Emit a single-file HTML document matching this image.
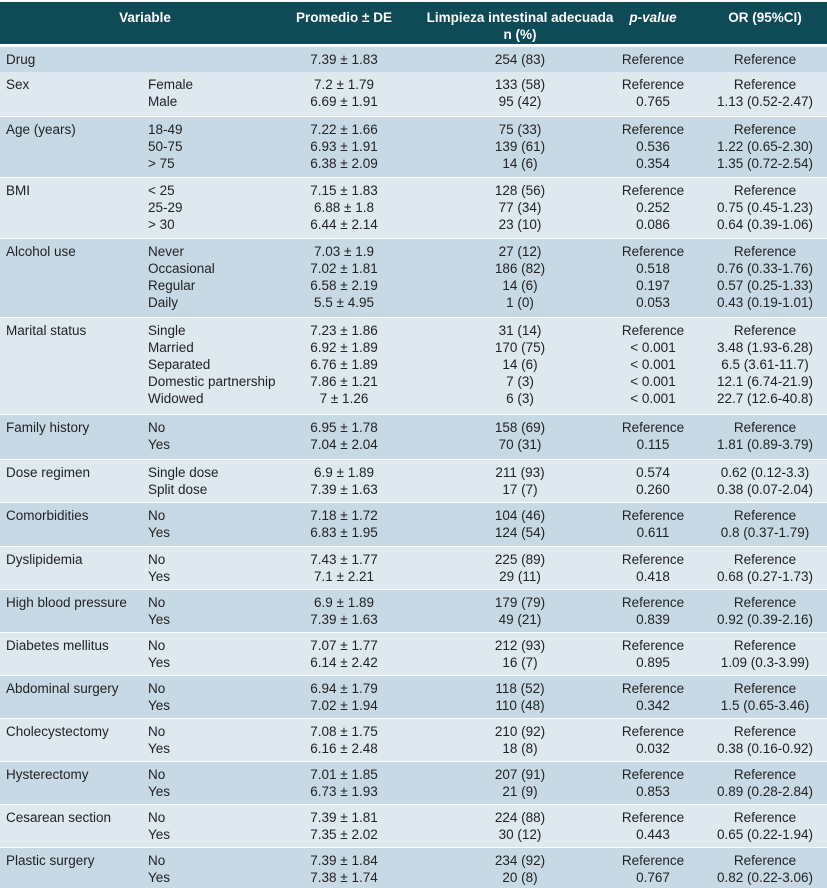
<!DOCTYPE html>
<html><head><meta charset="utf-8">
<style>
body{margin:0;width:827px;height:887px;background:#fff;overflow:hidden;font-family:"Liberation Sans Narrow","Liberation Sans",sans-serif;font-size:13.5px;color:#222}
#t{position:relative;width:827px;height:887px}
.hdr{position:absolute;left:0;top:2px;width:827px;height:42px;background:#0f4a57;color:#fff;font-weight:bold}
.row{position:absolute;left:0;width:827px}
.c{position:absolute;line-height:17px;white-space:pre}
.ctr{text-align:center}
</style></head><body>
<div id="t">
 <div class="hdr">
  <div class="c ctr" style="left:80px;width:130px;top:7px">Variable</div>
  <div class="c ctr" style="left:284px;width:120px;top:7px">Promedio ± DE</div>
  <div class="c ctr" style="left:410px;width:220px;top:7px">Limpieza intestinal adecuada
n (%)</div>
  <div class="c ctr" style="left:603px;width:100px;top:7px;font-style:italic">p-value</div>
  <div class="c ctr" style="left:705px;width:120px;top:7px">OR (95%CI)</div>
 </div>
</div>
<script>
const rows=[
["Drug",47,71,[""],["7.39 ± 1.83"],["254 (83)"],["Reference"],["Reference"]],
["Sex",72,115,["Female","Male"],["7.2 ± 1.79","6.69 ± 1.91"],["133 (58)","95 (42)"],["Reference","0.765"],["Reference","1.13 (0.52-2.47)"]],
["Age (years)",117,176,["18-49","50-75","> 75"],["7.22 ± 1.66","6.93 ± 1.91","6.38 ± 2.09"],["75 (33)","139 (61)","14 (6)"],["Reference","0.536","0.354"],["Reference","1.22 (0.65-2.30)","1.35 (0.72-2.54)"]],
["BMI",178,237,["< 25","25-29","> 30"],["7.15 ± 1.83","6.88 ± 1.8","6.44 ± 2.14"],["128 (56)","77 (34)","23 (10)"],["Reference","0.252","0.086"],["Reference","0.75 (0.45-1.23)","0.64 (0.39-1.06)"]],
["Alcohol use",239,316,["Never","Occasional","Regular","Daily"],["7.03 ± 1.9","7.02 ± 1.81","6.58 ± 2.19","5.5 ± 4.95"],["27 (12)","186 (82)","14 (6)","1 (0)"],["Reference","0.518","0.197","0.053"],["Reference","0.76 (0.33-1.76)","0.57 (0.25-1.33)","0.43 (0.19-1.01)"]],
["Marital status",318,413,["Single","Married","Separated","Domestic partnership","Widowed"],["7.23 ± 1.86","6.92 ± 1.89","6.76 ± 1.89","7.86 ± 1.21","7 ± 1.26"],["31 (14)","170 (75)","14 (6)","7 (3)","6 (3)"],["Reference","< 0.001","< 0.001","< 0.001","< 0.001"],["Reference","3.48 (1.93-6.28)","6.5 (3.61-11.7)","12.1 (6.74-21.9)","22.7 (12.6-40.8)"]],
["Family history",415,458,["No","Yes"],["6.95 ± 1.78","7.04 ± 2.04"],["158 (69)","70 (31)"],["Reference","0.115"],["Reference","1.81 (0.89-3.79)"]],
["Dose regimen",460,501,["Single dose","Split dose"],["6.9 ± 1.89","7.39 ± 1.63"],["211 (93)","17 (7)"],["0.574","0.260"],["0.62 (0.12-3.3)","0.38 (0.07-2.04)"]],
["Comorbidities",503,545,["No","Yes"],["7.18 ± 1.72","6.83 ± 1.95"],["104 (46)","124 (54)"],["Reference","0.611"],["Reference","0.8 (0.37-1.79)"]],
["Dyslipidemia",547,588,["No","Yes"],["7.43 ± 1.77","7.1 ± 2.21"],["225 (89)","29 (11)"],["Reference","0.418"],["Reference","0.68 (0.27-1.73)"]],
["High blood pressure",590,631,["No","Yes"],["6.9 ± 1.89","7.39 ± 1.63"],["179 (79)","49 (21)"],["Reference","0.839"],["Reference","0.92 (0.39-2.16)"]],
["Diabetes mellitus",633,674,["No","Yes"],["7.07 ± 1.77","6.14 ± 2.42"],["212 (93)","16 (7)"],["Reference","0.895"],["Reference","1.09 (0.3-3.99)"]],
["Abdominal surgery",676,717,["No","Yes"],["6.94 ± 1.79","7.02 ± 1.94"],["118 (52)","110 (48)"],["Reference","0.342"],["Reference","1.5 (0.65-3.46)"]],
["Cholecystectomy",719,760,["No","Yes"],["7.08 ± 1.75","6.16 ± 2.48"],["210 (92)","18 (8)"],["Reference","0.032"],["Reference","0.38 (0.16-0.92)"]],
["Hysterectomy",762,803,["No","Yes"],["7.01 ± 1.85","6.73 ± 1.93"],["207 (91)","21 (9)"],["Reference","0.853"],["Reference","0.89 (0.28-2.84)"]],
["Cesarean section",805,846,["No","Yes"],["7.39 ± 1.81","7.35 ± 2.02"],["224 (88)","30 (12)"],["Reference","0.443"],["Reference","0.65 (0.22-1.94)"]],
["Plastic surgery",848,887,["No","Yes"],["7.39 ± 1.84","7.38 ± 1.74"],["234 (92)","20 (8)"],["Reference","0.767"],["Reference","0.82 (0.22-3.06)"]]
];
const t=document.getElementById('t');
rows.forEach((r,i)=>{
 const row=document.createElement('div');
 row.className='row';
 
 
 row.style.top=r[1]+'px';row.style.height=(r[2]-r[1]+1)+'px';
 row.style.background=i%2===0?'#c7d9e4':'#dde8ef';
 const cols=[[[r[0]],6,null],[r[3],148,null],[r[4],284,120],[r[5],410,220],[r[6],603,100],[r[7],705,120]];
 const names=['variable-name','category','mean-sd','adequate-n','p-value','odds-ratio'];
 cols.forEach((c,j)=>{
  const d=document.createElement('div');
  d.className='c'+(c[2]?' ctr':'');
  
  
  d.style.left=c[1]+'px';d.style.top='4px';
  if(c[2])d.style.width=c[2]+'px';
  d.textContent=c[0].join('\n');
  row.appendChild(d);
 });
 t.appendChild(row);
});
</script>
</body></html>
